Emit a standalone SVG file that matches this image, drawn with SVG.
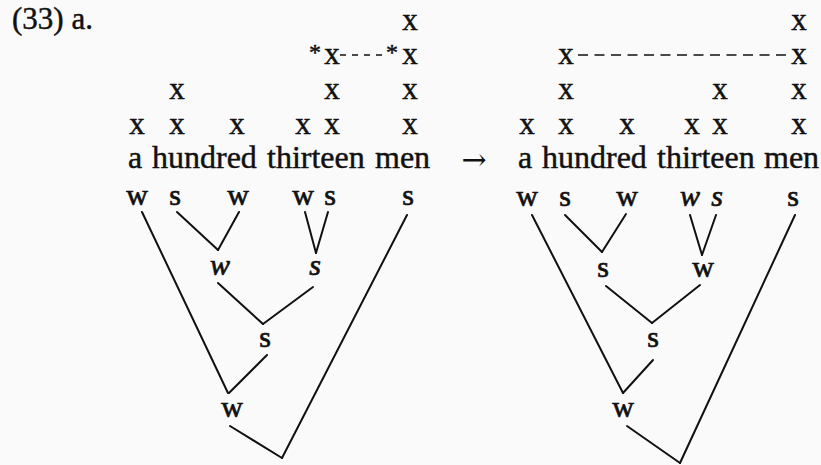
<svg xmlns="http://www.w3.org/2000/svg" width="821" height="465" viewBox="0 0 821 465">
  <style>
    text { font-family: "Liberation Serif", "Times New Roman", serif; fill: #111; stroke: #111; stroke-width: 0.45; }
    .lbl { font-size: 31px; }
    .sent { font-size: 32px; }
    .mk { font-size: 31px; text-anchor: middle; }
    .ast { font-size: 24px; text-anchor: middle; }
    .arr { font-family: "DejaVu Serif", serif; font-size: 30px; text-anchor: middle; stroke-width: 0; }
    .nd { font-size: 30px; text-anchor: middle; stroke-width: 0.7; }
    .it { font-style: italic; }
    .edge { stroke: #111; stroke-width: 2; fill: none; stroke-linecap: round; }
    .dash { stroke: #111; stroke-width: 1.4; fill: none; }
  </style>
  <rect width="821" height="465" fill="#fafafa"/>

  <text id="example-label" class="lbl" x="12" y="29">(33) a.</text>

  <!-- Left metrical grid -->
  <g id="grid-left">
    <text class="mk" x="410" y="30">x</text>
    <text class="ast" x="315" y="60">*</text>
    <text class="mk" x="332" y="64">x</text>
    <text class="ast" x="392" y="60">*</text>
    <text class="mk" x="410" y="64">x</text>
    <text class="mk" x="177" y="99">x</text>
    <text class="mk" x="332" y="99">x</text>
    <text class="mk" x="410" y="99">x</text>
    <text class="mk" x="137" y="134">x</text>
    <text class="mk" x="177" y="134">x</text>
    <text class="mk" x="237" y="134">x</text>
    <text class="mk" x="303" y="134">x</text>
    <text class="mk" x="332" y="134">x</text>
    <text class="mk" x="410" y="134">x</text>
    <line class="dash" x1="340" y1="55" x2="386" y2="55" stroke-dasharray="6 6"/>
  </g>
  <g id="sentence-left">
    <text class="sent" x="128" y="168">a</text>
    <text class="sent" x="152" y="168">hundred</text>
    <text class="sent" x="267" y="168">thirteen</text>
    <text class="sent" x="375" y="168">men</text>
  </g>

  <text id="arrow" class="arr" x="474" y="170">→</text>

  <!-- Right metrical grid -->
  <g id="grid-right">
    <text class="mk" x="799" y="30">x</text>
    <text class="mk" x="566" y="64">x</text>
    <text class="mk" x="799" y="64">x</text>
    <text class="mk" x="566" y="99">x</text>
    <text class="mk" x="720" y="99">x</text>
    <text class="mk" x="799" y="99">x</text>
    <text class="mk" x="527" y="134">x</text>
    <text class="mk" x="566" y="134">x</text>
    <text class="mk" x="627" y="134">x</text>
    <text class="mk" x="692" y="134">x</text>
    <text class="mk" x="720" y="134">x</text>
    <text class="mk" x="799" y="134">x</text>
    <line class="dash" x1="578" y1="55" x2="788" y2="55" stroke-dasharray="10 6.5"/>
  </g>
  <g id="sentence-right">
    <text class="sent" x="518" y="168">a</text>
    <text class="sent" x="542" y="168">hundred</text>
    <text class="sent" x="657" y="168">thirteen</text>
    <text class="sent" x="764" y="168">men</text>
  </g>

  <!-- Connectors -->
  <g id="connectors">
    <line class="edge" x1="142" y1="212" x2="228" y2="393"/>
    <line class="edge" x1="177" y1="212" x2="218" y2="250"/>
    <line class="edge" x1="239" y1="212" x2="218" y2="250"/>
    <line class="edge" x1="305" y1="212" x2="316" y2="253"/>
    <line class="edge" x1="328" y1="212" x2="316" y2="253"/>
    <line class="edge" x1="218" y1="283" x2="263" y2="324"/>
    <line class="edge" x1="313" y1="287" x2="263" y2="324"/>
    <line class="edge" x1="267" y1="355" x2="229" y2="393"/>
    <line class="edge" x1="230" y1="426" x2="282" y2="458"/>
    <line class="edge" x1="407" y1="215" x2="282" y2="458"/>

    <line class="edge" x1="532" y1="215" x2="623" y2="393"/>
    <line class="edge" x1="565" y1="215" x2="602" y2="252"/>
    <line class="edge" x1="626" y1="214" x2="602" y2="252"/>
    <line class="edge" x1="690" y1="215" x2="702" y2="255"/>
    <line class="edge" x1="716" y1="215" x2="702" y2="255"/>
    <line class="edge" x1="606" y1="286" x2="652" y2="323"/>
    <line class="edge" x1="700" y1="285" x2="652" y2="323"/>
    <line class="edge" x1="653" y1="360" x2="623" y2="393"/>
    <line class="edge" x1="627" y1="426" x2="680" y2="463"/>
    <line class="edge" x1="795" y1="215" x2="680" y2="463"/>
  </g>

  <!-- Left tree nodes -->
  <g id="L-w1"><text class="nd" x="137" y="205">w</text></g>
  <g id="L-s2"><text class="nd" x="175" y="205">s</text></g>
  <g id="L-w3"><text class="nd" x="238" y="205">w</text></g>
  <g id="L-w4"><text class="nd" x="303" y="205">w</text></g>
  <g id="L-s5"><text class="nd" x="330" y="205">s</text></g>
  <g id="L-s6"><text class="nd" x="408" y="205">s</text></g>
  <g id="L-hundred"><text class="nd it" x="220" y="275">w</text></g>
  <g id="L-thirteen"><text class="nd it" x="315" y="275">s</text></g>
  <g id="L-numeral"><text class="nd" x="265" y="347">s</text></g>
  <g id="L-quant"><text class="nd" x="232" y="417">w</text></g>

  <!-- Right tree nodes -->
  <g id="R-w1"><text class="nd" x="527" y="206">w</text></g>
  <g id="R-s2"><text class="nd" x="565" y="206">s</text></g>
  <g id="R-w3"><text class="nd" x="627" y="206">w</text></g>
  <g id="R-w4"><text class="nd it" x="690" y="206">w</text></g>
  <g id="R-s5"><text class="nd it" x="717" y="206">s</text></g>
  <g id="R-s6"><text class="nd" x="793" y="206">s</text></g>
  <g id="R-hundred"><text class="nd" x="603" y="277">s</text></g>
  <g id="R-thirteen"><text class="nd" x="703" y="277">w</text></g>
  <g id="R-numeral"><text class="nd" x="653" y="347">s</text></g>
  <g id="R-quant"><text class="nd" x="623" y="417">w</text></g>
</svg>
